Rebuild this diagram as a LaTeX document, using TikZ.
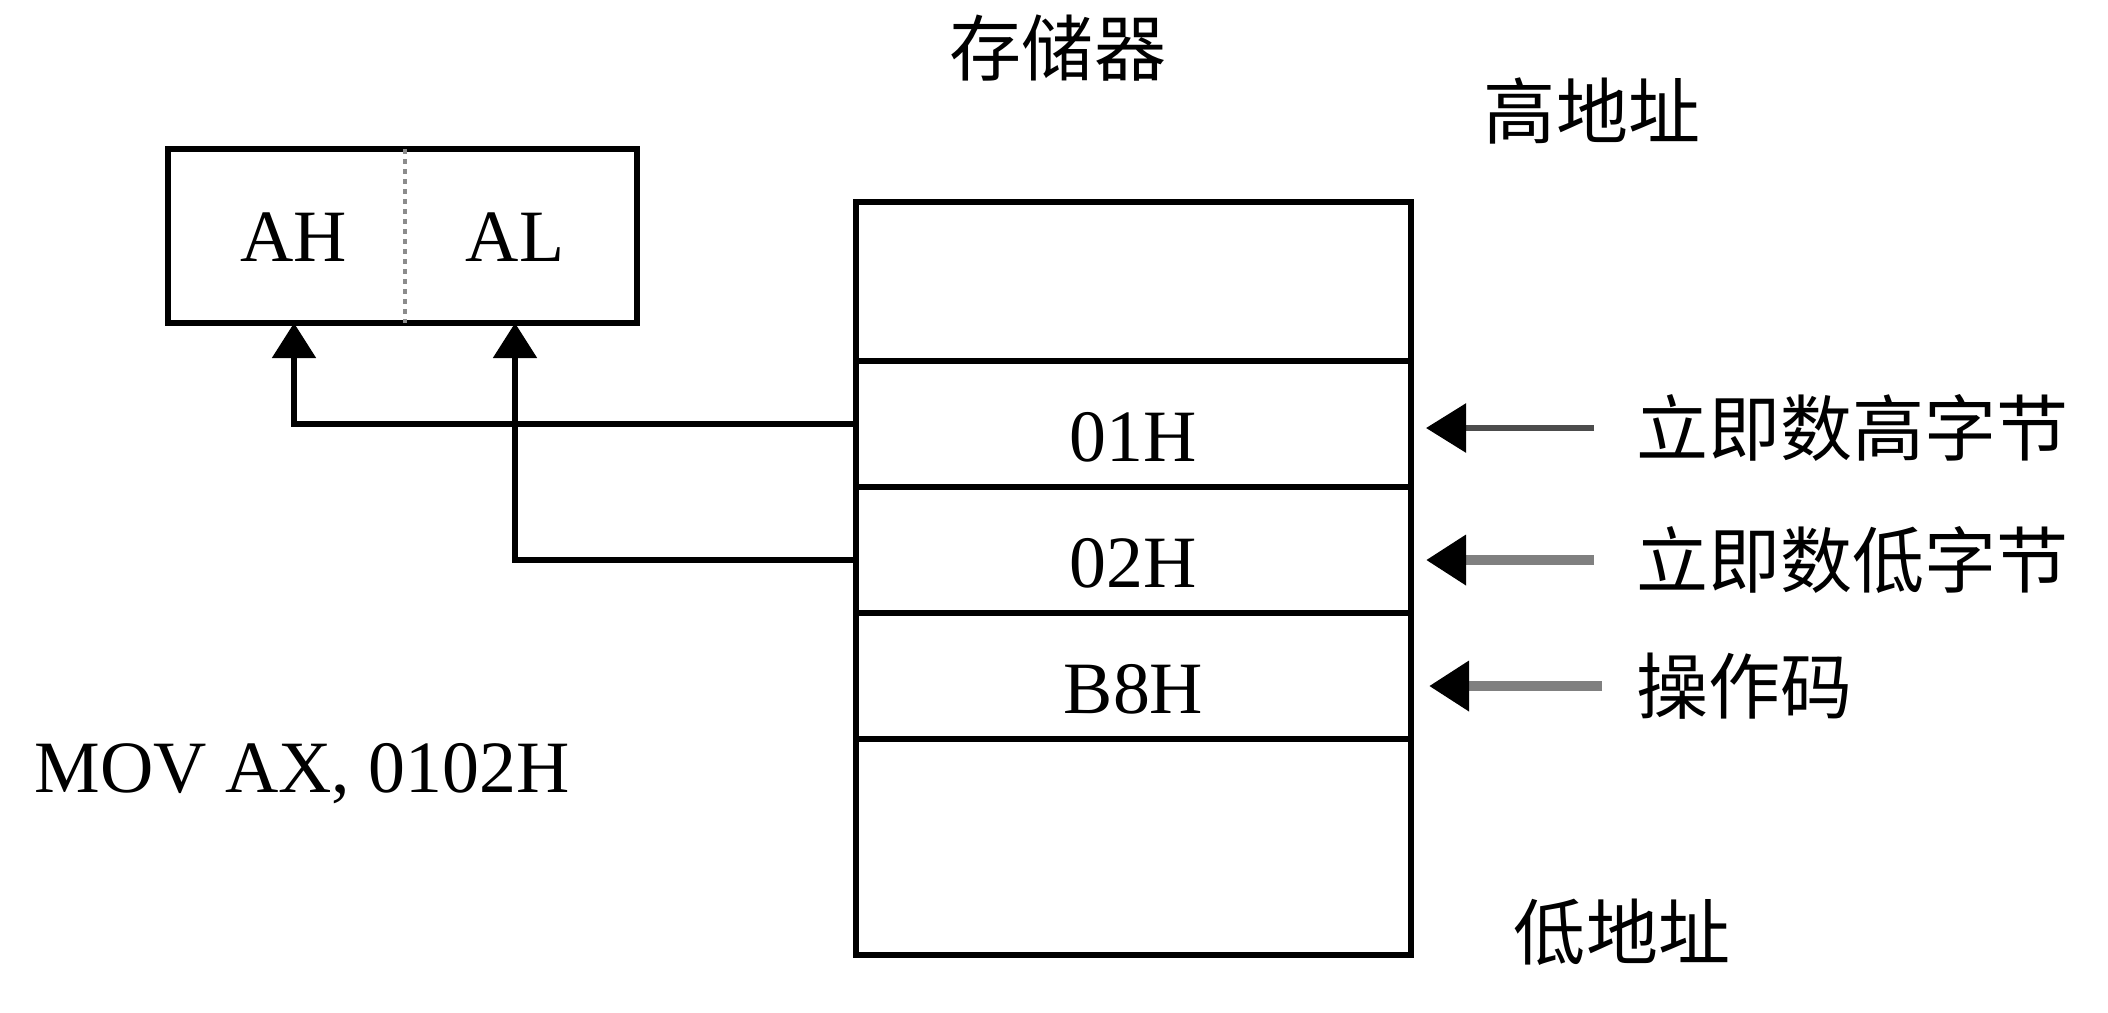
\documentclass[tikz,border=0pt]{standalone}
\usepackage{fontspec}
\setmainfont{Liberation Serif}
\newfontfamily\cjk{Noto Sans CJK SC}
\usetikzlibrary{positioning,arrows.meta}

\begin{document}
\begin{tikzpicture}[
    font=\fontsize{21pt}{25pt}\selectfont,
    line width=1.5pt,
    cell/.style={rectangle, draw, minimum width=5.55cm, inner sep=0pt, outer sep=0pt, text height=0.75cm, text depth=0pt},
    word/.style={font=\fontsize{20.5pt}{25pt}\selectfont\cjk, inner sep=0pt},
    up/.style={-{Triangle[length=0.35cm,width=0.43cm]}},
    ptr/.style={-{Triangle[length=0.4cm,width=0.48cm,color=black]}, shorten <=0.40cm, shorten >=0.15cm}
]
\useasboundingbox (0,0) rectangle (21.08,-10.12);

% Memory cells from top to bottom
\node [cell, minimum height=1.59cm, anchor=north west] (top) at (8.56,-2.02) {};
\node [cell, minimum height=1.26cm, below=0pt of top] (c01) {01H};
\node [cell, minimum height=1.26cm, below=0pt of c01] (c02) {02H};
\node [cell, minimum height=1.26cm, below=0pt of c02] (cb8) {B8H};
\node [cell, minimum height=2.16cm, below=0pt of cb8] (bottom) {};

% Register AX
\node [rectangle, draw, minimum width=4.69cm, minimum height=1.74cm, inner sep=0pt, outer sep=0pt] (reg) at (4.025,-2.36) {};
\coordinate (mid) at (4.05,-2.36);
\draw [black!45, line width=1pt, dash pattern=on 0.05cm off 0.05cm] (mid |- reg.north) -- (mid |- reg.south);
\node (ah) at (2.94,-2.37) {AH};
\node (al) at (5.15,-2.37) {AL};

% Draw arrows
\draw [up] (c01.west) -| (ah |- reg.south);
\draw [up] ([yshift=-0.1cm]c02.west) -| (al |- reg.south);

% Add labels
\node [word] (mem) at (10.58,-0.48) {存储器};
\node [word] (high) at (15.92,-1.11) {高地址};
\node [word] (low) at (16.22,-9.32) {低地址};
\node [word, anchor=west] (hi) at (16.34,-4.28) {立即数高字节};
\node [word, anchor=west] (lo) at (16.34,-5.60) {立即数低字节};
\node [word, anchor=west] (op) at (16.34,-6.86) {操作码};
\node [anchor=west, inner sep=0pt] (ins) at (0.32,-7.74) {MOV AX, 0102H};

\draw [ptr, draw=black!70, line width=0.06cm] (hi.west) -- (hi.west -| c01.east);
\draw [ptr, draw=black!50, line width=0.1cm] (lo.west) -- (lo.west -| c02.east);
\draw [ptr, draw=black!50, line width=0.1cm, shorten <=0.32cm, shorten >=0.18cm] (op.west) -- (op.west -| cb8.east);

\end{tikzpicture}
\end{document}
